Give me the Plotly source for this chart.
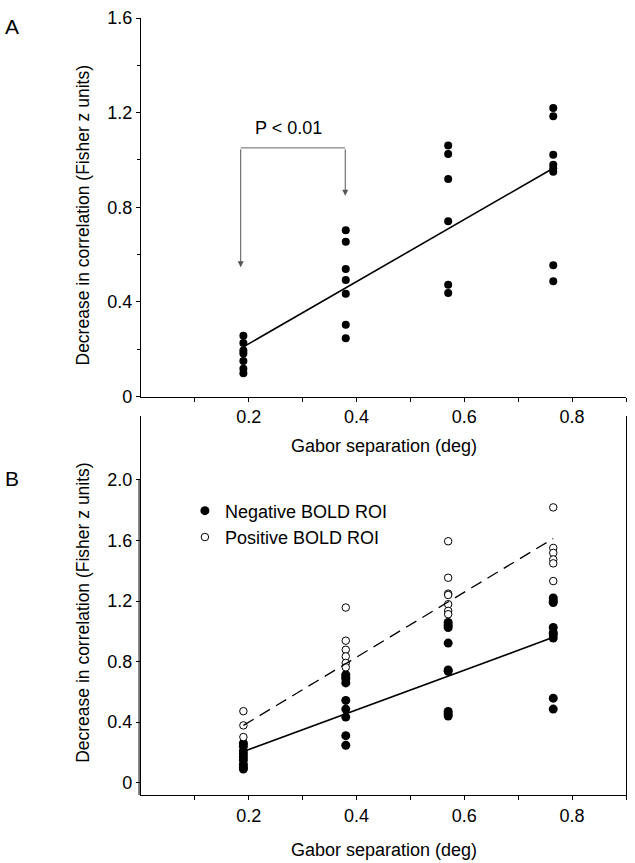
import plotly.graph_objects as go

# Gabor separation of each column (deg)
gabor_sep = [0.19, 0.38, 0.57, 0.765]

# Panel A: decrease in correlation, one list per separation
a_sep1 = [0.257, 0.226, 0.195, 0.182, 0.150, 0.117, 0.098]
a_sep2 = [0.703, 0.654, 0.539, 0.493, 0.434, 0.304, 0.246]
a_sep3 = [1.061, 1.025, 0.919, 0.741, 0.473, 0.438]
a_sep4 = [1.220, 1.185, 1.022, 0.980, 0.965, 0.950, 0.555, 0.487]
a_fit = [0.21, 0.965]

# Panel B: negative BOLD ROI (filled)
neg_sep1 = [0.26, 0.24, 0.21, 0.19, 0.17, 0.15, 0.12, 0.10, 0.09]
neg_sep2 = [0.714, 0.700, 0.686, 0.659, 0.543, 0.486, 0.433, 0.31, 0.247]
neg_sep3 = [1.058, 1.040, 1.025, 0.922, 0.745, 0.736, 0.470, 0.455, 0.44]
neg_sep4 = [1.22, 1.20, 1.19, 1.025, 0.99, 0.977, 0.955, 0.558, 0.486]
neg_fit = [0.205, 0.96]

# Panel B: positive BOLD ROI (open)
pos_sep1 = [0.472, 0.378, 0.301]
pos_sep2 = [1.157, 0.938, 0.878, 0.834, 0.791, 0.762]
pos_sep3 = [1.595, 1.354, 1.249, 1.240, 1.179, 1.135, 1.113]
pos_sep4 = [1.819, 1.551, 1.518, 1.475, 1.449, 1.332]
pos_fit = [0.378, 1.613]

# significance bracket in panel A
bracket_x = [0.185, 0.379]
bracket_top = 1.051
arrow_tips = [0.547, 0.849]

x_ticks = [0.1, 0.2, 0.3, 0.4, 0.5, 0.6, 0.7, 0.8, 0.9]
x_labels = ["", "0.2", "", "0.4", "", "0.6", "", "0.8", ""]
a_yticks = [0, 0.4, 0.8, 1.2, 1.6]
a_ylabels = ["0", "0.4", "0.8", "1.2", "1.6"]
b_yticks = [0, 0.4, 0.8, 1.2, 1.6, 2.0]
b_ylabels = ["0", "0.4", "0.8", "1.2", "1.6", "2.0"]


def spread(cols):
    xs, ys = [], []
    for sep, vals in zip(gabor_sep, cols):
        xs += [sep] * len(vals)
        ys += vals
    return xs, ys


FONT = "Liberation Sans, Arial, sans-serif"
fit_x = [gabor_sep[0], gabor_sep[-1]]

fig = go.Figure()

ax, ay = spread([a_sep1, a_sep2, a_sep3, a_sep4])
fig.add_trace(go.Scatter(x=ax, y=ay, mode="markers", showlegend=False,
                         marker=dict(color="black", size=8), xaxis="x", yaxis="y"))
fig.add_trace(go.Scatter(x=fit_x, y=a_fit, mode="lines", showlegend=False,
                         line=dict(color="black", width=1.6), xaxis="x", yaxis="y"))

nx, ny = spread([neg_sep1, neg_sep2, neg_sep3, neg_sep4])
px_, py_ = spread([pos_sep1, pos_sep2, pos_sep3, pos_sep4])
fig.add_trace(go.Scatter(x=nx, y=ny, mode="markers", name="Negative BOLD ROI",
                         marker=dict(color="black", size=9), xaxis="x2", yaxis="y2"))
fig.add_trace(go.Scatter(x=px_, y=py_, mode="markers", name="Positive BOLD ROI",
                         marker=dict(color="white", size=7.5, line=dict(color="black", width=1)),
                         xaxis="x2", yaxis="y2"))
fig.add_trace(go.Scatter(x=fit_x, y=neg_fit, mode="lines", showlegend=False,
                         line=dict(color="black", width=1.6), xaxis="x2", yaxis="y2"))
fig.add_trace(go.Scatter(x=fit_x, y=pos_fit, mode="lines", showlegend=False,
                         line=dict(color="black", width=1.3, dash="12px,7px"),
                         xaxis="x2", yaxis="y2"))

axis_common = dict(showline=True, linecolor="black", linewidth=1.2, ticks="outside",
                   ticklen=4, tickcolor="black", showgrid=False, zeroline=False,
                   tickfont=dict(family=FONT, size=18, color="black"))

fig.update_layout(
    width=635, height=863,
    margin=dict(l=141, r=8, t=15, b=68),
    paper_bgcolor="white", plot_bgcolor="white",
    font=dict(family=FONT, size=18, color="black"),
    xaxis=dict(domain=[0, 1], range=[0, 0.9], anchor="y", tickvals=x_ticks,
               ticktext=x_labels, **axis_common),
    yaxis=dict(domain=[0.5128, 1.0], range=[0, 1.6], anchor="x", tickvals=a_yticks,
               ticktext=a_ylabels, minor=dict(dtick=0.2, ticks="outside", ticklen=3,
                                              tickcolor="black"), **axis_common),
    xaxis2=dict(domain=[0, 1], range=[0, 0.9], anchor="y2", tickvals=x_ticks,
                ticktext=x_labels, **axis_common),
    yaxis2=dict(domain=[0, 0.4872], range=[-0.082, 2.42], anchor="x2", tickvals=b_yticks,
                ticktext=b_ylabels, mirror=True, **axis_common),
    legend=dict(x=0.0905, y=0.3894, xanchor="left", yanchor="top",
                bgcolor="rgba(0,0,0,0)", font=dict(family=FONT, size=18),
                itemwidth=30, tracegroupgap=0),
)

# double line on the B y axis between 0 and 2.0
fig.add_shape(type="line", xref="paper", yref="y2", x0=-0.004, x1=-0.004,
              y0=-0.082, y1=2.0, line=dict(color="black", width=1))

# significance bracket
fig.add_shape(type="line", xref="x", yref="y", x0=bracket_x[0], x1=bracket_x[1],
              y0=bracket_top, y1=bracket_top, line=dict(color="#666666", width=1))
for bx, tip in zip(bracket_x, arrow_tips):
    fig.add_annotation(x=bx, y=tip, ax=bx, ay=bracket_top, xref="x", yref="y",
                       axref="x", ayref="y", text="", showarrow=True, arrowhead=2,
                       arrowsize=1.2, arrowwidth=1, arrowcolor="#555555")
fig.add_annotation(x=0.274, y=1.137, xref="x", yref="y", text="P < 0.01",
                   showarrow=False, font=dict(family=FONT, size=18))

# axis titles and panel letters
ytitle = "Decrease in correlation (Fisher z units)"
xtitle = "Gabor separation (deg)"
centered = dict(xref="paper", yref="paper", xanchor="center", yanchor="middle",
                showarrow=False)
for yy in [0.746, 0.2346]:
    fig.add_annotation(x=-0.1193, y=yy, text=ytitle, textangle=-90,
                       font=dict(family=FONT, size=17.5), **centered)
for yy in [0.4487, -0.0705]:
    fig.add_annotation(x=0.5, y=yy, text=xtitle, font=dict(family=FONT, size=18),
                       **centered)
fig.add_annotation(x=-0.2654, y=0.9897, text="A", font=dict(family=FONT, size=21),
                   **centered)
fig.add_annotation(x=-0.2654, y=0.4077, text="B", font=dict(family=FONT, size=21),
                   **centered)

# drop the default page margin so the figure sits at the window's corner
fig.write_html("out.html", config={"displayModeBar": False},
               post_script="document.body.style.margin='0';")
